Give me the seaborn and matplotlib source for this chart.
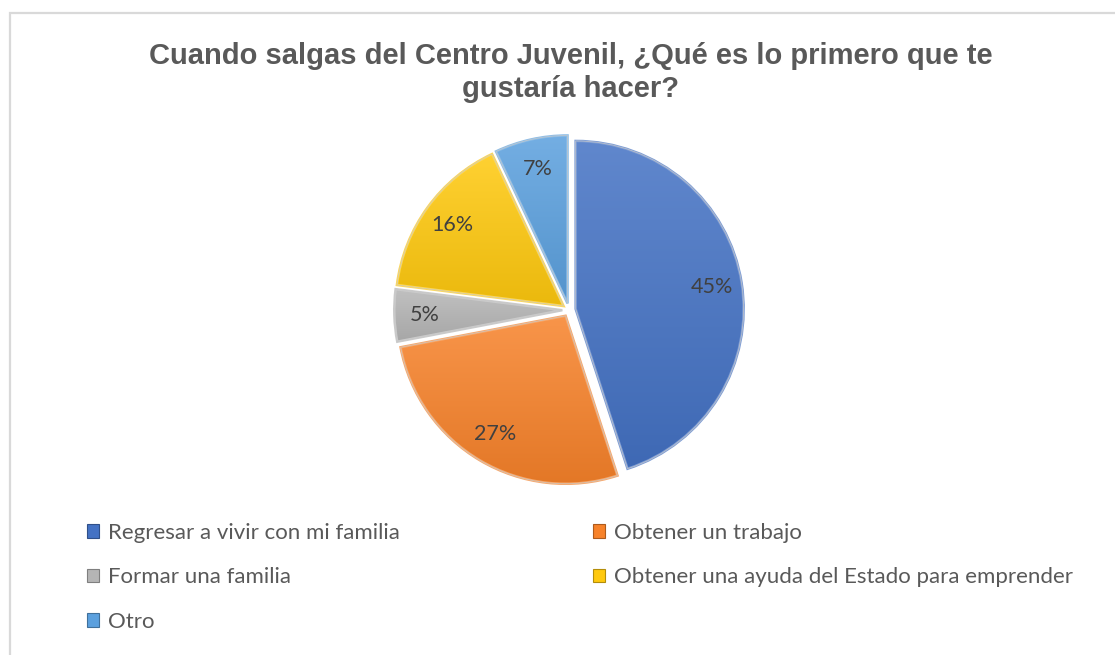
import numpy as np
import matplotlib
matplotlib.use("Agg")
import matplotlib.pyplot as plt
import matplotlib.colors as mcolors
from matplotlib.patches import Patch, Rectangle, PathPatch
import seaborn as sns

# Survey answers (percent of respondents)
categories = [
    "Regresar a vivir con mi familia",
    "Obtener un trabajo",
    "Formar una familia",
    "Obtener una ayuda del Estado para emprender",
    "Otro",
]
values = [45, 27, 5, 16, 7]
palette = ["#4472C4", "#F7822A", "#B5B5B5", "#FFC90E", "#5BA0DE"]
title_lines = ["Cuando salgas del Centro Juvenil, ¿Qué es lo primero que te",
               "gustaría hacer?"]

sns.set_theme(style="white")
plt.rcParams["font.family"] = ["Lato", "DejaVu Sans"]

W, H = 1115, 655
fig = plt.figure(figsize=(W / 100, H / 100), dpi=100)
fig.patch.set_facecolor("white")

# light frame around the chart area
fig.add_artist(Rectangle((10 / W, -0.2), 1.3, (H - 13) / H + 0.2,
                         transform=fig.transFigure, fill=False,
                         edgecolor="#D9D9D9", linewidth=1.6))

for y_px, line in zip([56, 89], title_lines):
    fig.text(571 / W, 1 - y_px / H, line, ha="center", va="center", fontsize=21,
             fontweight="bold", color="#595959", family="Liberation Sans")

# pie axes: centre at (569, 310) px, radius 168 px
R = 168
cx, cy = 569, 310
box = 420
ax = fig.add_axes([(cx - box / 2) / W, (H - cy - box / 2) / H, box / W, box / H])
half = box / 2 / R

wedges, texts, autotexts = ax.pie(
    values, colors=palette, startangle=90, counterclock=False,
    explode=[0.04] * len(values), autopct=lambda p: f"{p:.0f}%",
    pctdistance=0.82, radius=1.0,
    wedgeprops=dict(edgecolor="none"),
    textprops=dict(fontsize=15.5, color="#404040"),
)


def shade(c, f):
    rgb = np.array(mcolors.to_rgb(c))
    if f >= 0:
        return rgb + (1 - rgb) * f
    return rgb * (1 + f)


# vertical light-to-dark gradient inside every slice, plus a soft bevel edge
for w, c in zip(wedges, palette):
    bb = w.get_path().get_extents()
    top, bot = shade(c, 0.15), shade(c, -0.08)
    t = np.linspace(0, 1, 256)[:, None, None]
    grad = top[None, None, :] * (1 - t) + bot[None, None, :] * t
    im = ax.imshow(grad, extent=[bb.x0, bb.x1, bb.y0, bb.y1], origin="upper",
                   aspect="auto", zorder=2, interpolation="bilinear")
    im.set_clip_path(w)
    ax.add_patch(PathPatch(w.get_path(), fill=False, edgecolor=shade(c, 0.3),
                           linewidth=1.8, zorder=3))
    ax.add_patch(PathPatch(w.get_path(), fill=False, edgecolor="#C8C8C8",
                           linewidth=0.6, zorder=3.5, alpha=0.8))
for t_ in autotexts:
    t_.set_zorder(5)

ax.set_xlim(-half, half)
ax.set_ylim(-half, half)
ax.set_aspect("equal")
ax.axis("off")

# legend laid out row by row (two columns)
handles = [Patch(facecolor=c, edgecolor=shade(c, -0.3), linewidth=0.8) for c in palette]
order = [0, 2, 4, 1, 3]
leg = fig.legend([handles[i] for i in order], [categories[i] for i in order],
                 ncol=2, loc="upper left", bbox_to_anchor=(78 / W, 1 - 514 / H),
                 frameon=False, fontsize=16, handlelength=0.55, handleheight=0.55,
                 handletextpad=0.4, labelspacing=1.1, columnspacing=8.7,
                 borderaxespad=0)
for txt in leg.get_texts():
    txt.set_color("#595959")

fig.savefig("out.png", dpi=100, facecolor="white")
